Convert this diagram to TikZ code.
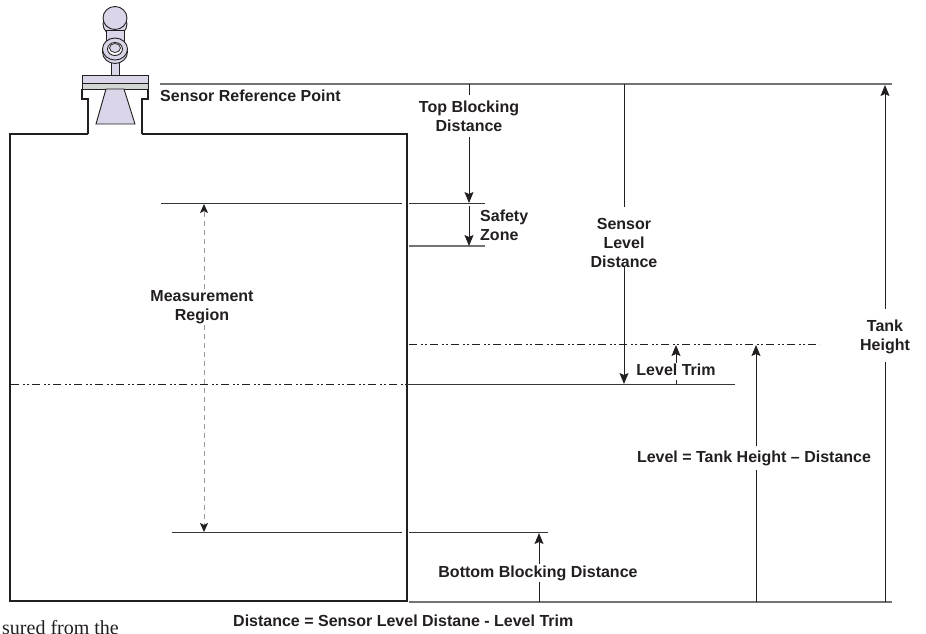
\documentclass[tikz,border=0pt]{standalone}
\usepackage{fontspec}
\setmainfont{Liberation Sans}
\newfontfamily\bodyfont{Liberation Serif}
\usetikzlibrary{arrows.meta}
\definecolor{inkdark}{HTML}{231F20}
\definecolor{lilac}{HTML}{DAD5E8}
\definecolor{flangegrey}{HTML}{D3D5D4}
\tikzstyle{tag} = [inner xsep=0pt, inner ysep=1pt, align=center, text=inkdark,
font=\fontsize{16}{19}\selectfont\bfseries]
\tikzstyle{wall} = [draw=inkdark, line width=1.7pt]
\tikzstyle{part} = [draw=inkdark, line width=0.9pt, fill=lilac]
\tikzstyle{rule} = [draw=inkdark!90, line width=1pt]
\tikzstyle{greyrule} = [draw=black!55, line width=1.4pt]
\tikzstyle{dashdot} = [draw=inkdark, line width=1pt, dash pattern=on 8pt off 4pt on 1.5pt off 2.5pt on 1.5pt off 3.5pt]
\tikzstyle{arrow} = [draw=inkdark, line width=1pt, -{Stealth[length=11pt,width=9pt,inset=2pt]}]
\tikzstyle{plain} = [draw=inkdark, line width=1pt]
\tikzstyle{dimdash} = [draw=black!40, line width=0.9pt, dash pattern=on 5pt off 4pt]
\tikzstyle{dimhead} = [-{Stealth[length=9pt,width=8pt,inset=2pt,color=inkdark]}]

\begin{document}
\begin{tikzpicture}[x=1pt, y=-1pt]
  \useasboundingbox (0,0) rectangle (926,633);

  % sensor
  \draw [part] (115,24) ellipse (12 and 11.5);
  \draw [part] (115,18) ellipse (12 and 11.5);
  \draw [part] (106,30) rectangle (124,50);
  \draw [part] (111,60) rectangle (119,75);
  \draw [part] (115,52) ellipse (12.5 and 11.5);
  \draw [part] (115,49) ellipse (12.5 and 11);
  \draw [part, fill=white] (115,49) ellipse (7.5 and 6.5);
  \draw [part, line width=0.7pt] (115,48) ellipse (5.5 and 4.5);
  \draw [part] (82,75) rectangle (148,83);
  \draw [part, fill=flangegrey] (82,83) rectangle (148,89);
  \draw [part] (106,89) -- (124,89) -- (135,124) -- (96,124) -- cycle;

  % tank
  \draw [wall] (88,134) -- (88,99) -- (82,99) -- (82,89);
  \draw [wall] (142,134) -- (142,99) -- (148,99) -- (148,89);
  \draw [wall, line join=miter] (88,134) -- (10,134) -- (10,601) -- (407,601) -- (407,134) -- (142,134);

  % levels
  \coordinate (refL) at (160,84);
  \coordinate (refR) at (892,84);
  \coordinate (botL) at (409,602);
  \coordinate (botR) at (892,602);
  \coordinate (topinL) at (161,203);
  \coordinate (topinR) at (402,203);
  \coordinate (topoutL) at (409,203);
  \coordinate (topoutR) at (485,203);
  \coordinate (safeL) at (409,246);
  \coordinate (safeR) at (485,246);
  \coordinate (lowinL) at (172,532);
  \coordinate (lowinR) at (402,532);
  \coordinate (lowoutL) at (409,532);
  \coordinate (lowoutR) at (548,532);
  \coordinate (levelL) at (409,344);
  \coordinate (levelR) at (820,344);
  \coordinate (surfL) at (11,384);
  \coordinate (surfM) at (407,384);
  \coordinate (surfR) at (735,384);

  \draw [greyrule] (refL) -- (refR);
  \draw [greyrule] (botL) -- (botR);
  \draw [rule] (topinL) -- (topinR);
  \draw [rule] (topoutL) -- (topoutR);
  \draw [greyrule] (safeL) -- (safeR);
  \draw [rule] (lowinL) -- (lowinR);
  \draw [rule] (lowoutL) -- (lowoutR);
  \draw [dashdot] (levelL) -- (levelR);
  \draw [dashdot] (surfL) -- (surfM);
  \draw [rule] (surfM) -- (surfR);

  % labels
  \node (refpoint) [tag, anchor=west] at (160,96) {Sensor Reference Point};
  \node (topblock) [tag] at (469,116.5) {Top Blocking\\Distance};
  \node (safety) [tag, anchor=west, align=left] at (480,225) {Safety\\Zone};
  \node (sensorlevel) [tag] at (624,243) {Sensor\\Level\\Distance};
  \node (measure) [tag] at (202,307) {Measurement\\Region};
  \node (trim) [tag] at (676,370) {Level Trim};
  \node (tankheight) [tag] at (885,337) {Tank\\Height};
  \node (levelcalc) [tag] at (754,458) {Level = Tank Height – Distance};
  \node (bottomblock) [tag] at (538,573) {Bottom Blocking Distance};
  \node (distcalc) [tag, anchor=west] at (233,621) {Distance = Sensor Level Distane - Level Trim};
  \node (bodytext) [anchor=base west, inner sep=0pt, text=inkdark, font=\bodyfont\fontsize{20}{24}\selectfont] at (2,634) {sured from the};

  % dimensions
  \coordinate (topblockR) at (469,84);
  \coordinate (topblockS) at (469,203);
  \coordinate (safetyA) at (469,206);
  \coordinate (safetyB) at (469,246);
  \coordinate (sensorR) at (624,84);
  \coordinate (sensorS) at (624,384);
  \coordinate (measureT) at (204,204);
  \coordinate (measureB) at (204,532);
  \coordinate (trimB) at (676,384);
  \coordinate (trimT) at (676,345);
  \coordinate (calcB) at (756,602);
  \coordinate (calcT) at (756,345);
  \coordinate (tankB) at (885,602);
  \coordinate (tankT) at (885,85);
  \coordinate (blockB) at (539,602);
  \coordinate (blockT) at (539,533);

  \draw [plain, shorten >=5pt] (topblockR) -- (topblock.north -| topblockR);
  \draw [arrow, shorten <=4pt] (topblock.south -| topblockR) -- (topblockS);
  \draw [arrow] (safetyA) -- (safetyB);
  \draw [plain, shorten >=10pt] (sensorR) -- (sensorlevel.north);
  \draw [arrow, shorten <=-3pt] (sensorlevel.south) -- (sensorS);
  \draw [dimdash, dimhead] (measure.north -| measureT) -- (measureT);
  \draw [dimdash, dimhead] (measure.south -| measureT) -- (measureB);
  \draw [dimdash, draw=inkdark, shorten >=3pt] (trimB) -- (trim.south);
  \draw [arrow] (trim.north) -- (trimT);
  \draw [plain, shorten >=3pt] (calcB) -- (levelcalc.south -| calcB);
  \draw [arrow, shorten <=3pt] (levelcalc.north -| calcB) -- (calcT);
  \draw [plain, shorten >=7pt] (tankB) -- (tankheight.south);
  \draw [arrow, shorten <=10pt] (tankheight.north) -- (tankT);
  \draw [plain] (blockB) -- (bottomblock.south -| blockB);
  \draw [arrow] (bottomblock.north -| blockB) -- (blockT);

\end{tikzpicture}
\end{document}
